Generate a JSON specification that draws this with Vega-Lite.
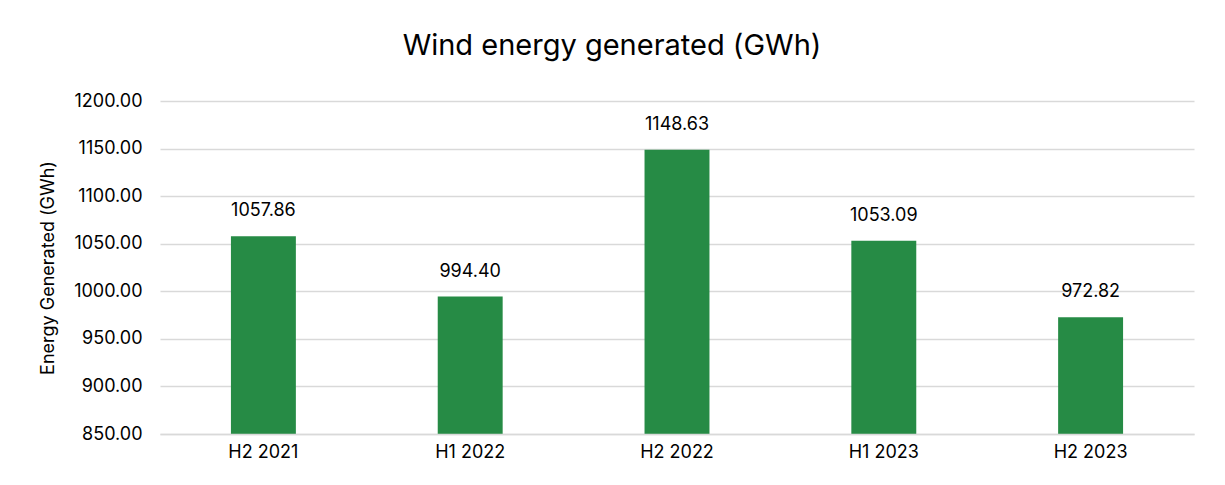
{
  "$schema": "https://vega.github.io/schema/vega-lite/v6.json",
  "autosize": {"type": "none"},
  "width": 1034,
  "height": 333,
  "padding": {"left": 160, "top": 101, "right": 31, "bottom": 51},
  "background": "#ffffff",
  "title": {
    "text": "Wind energy generated (GWh)",
    "fontSize": 29,
    "font": "Inter",
    "fontWeight": "normal",
    "color": "#000000",
    "anchor": "middle",
    "dx": -65,
    "offset": 31
  },
  "data": {
    "values": [
      {"period": "H2 2021", "value": 1057.86},
      {"period": "H1 2022", "value": 994.40},
      {"period": "H2 2022", "value": 1148.63},
      {"period": "H1 2023", "value": 1053.09},
      {"period": "H2 2023", "value": 972.82}
    ]
  },
  "encoding": {
    "x": {
      "field": "period",
      "type": "nominal",
      "sort": null,
      "scale": {"paddingInner": 0.686, "paddingOuter": 0.343},
      "axis": {
        "title": null,
        "labelAngle": 0,
        "labelFont": "Inter",
        "labelFontSize": 18,
        "labelColor": "#000000",
        "labelPadding": 9,
        "ticks": false,
        "domainColor": "#d9d9d9",
        "domainWidth": 1.5,
        "zindex": 1
      }
    },
    "y": {
      "field": "value",
      "type": "quantitative",
      "scale": {"domain": [850, 1200], "zero": false, "nice": false},
      "axis": {
        "title": "Energy Generated (GWh)",
        "titleFont": "Inter",
        "titleFontSize": 18,
        "titleFontWeight": "normal",
        "titleColor": "#000000",
        "titlePadding": 16,
        "values": [850, 900, 950, 1000, 1050, 1100, 1150, 1200],
        "format": ".2f",
        "labelFont": "Inter",
        "labelFontSize": 18,
        "labelColor": "#000000",
        "labelPadding": 18,
        "ticks": false,
        "domain": false,
        "gridColor": "#d9d9d9",
        "gridWidth": 1.5
      }
    }
  },
  "layer": [
    {"mark": {"type": "bar", "color": "#268b45", "clip": true}},
    {
      "mark": {"type": "text", "baseline": "bottom", "dy": -16, "font": "Inter", "fontSize": 18, "color": "#000000"},
      "encoding": {"text": {"field": "value", "type": "quantitative", "format": ".2f"}}
    }
  ],
  "config": {"view": {"stroke": null}}
}
